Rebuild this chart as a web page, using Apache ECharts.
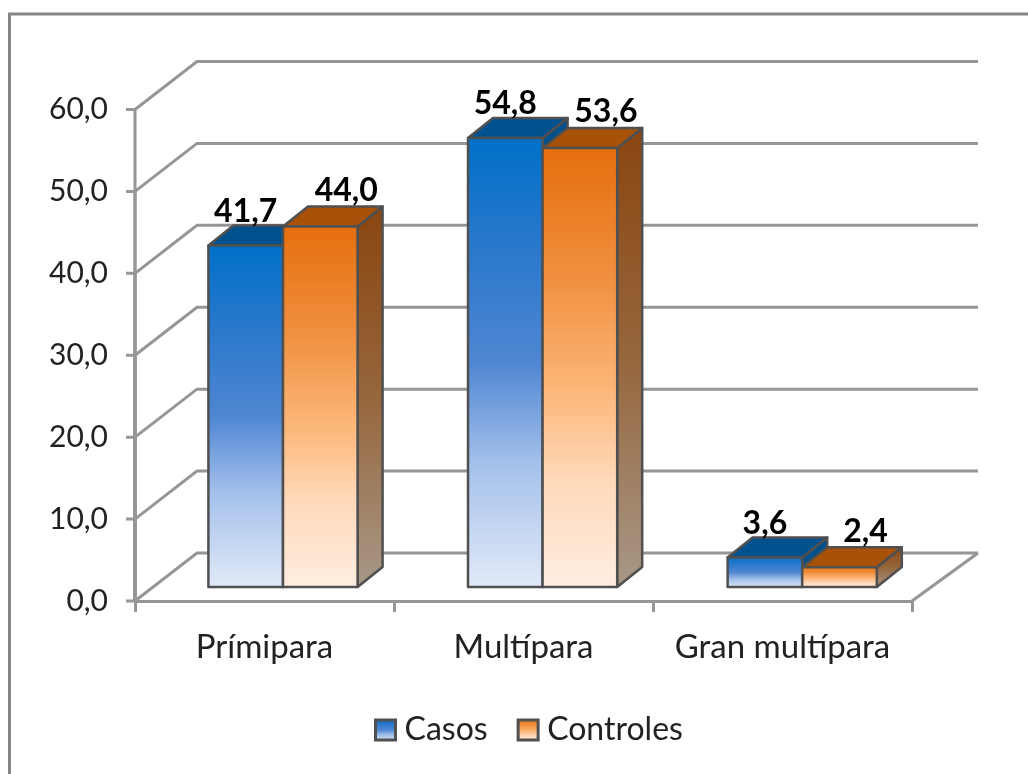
<!DOCTYPE html>
<html>
<head>
<meta charset="utf-8">
<style>
  html, body { margin: 0; background: #fff; }
  #chart { width: 1028px; height: 774px; }
</style>
<script src="https://cdn.jsdelivr.net/npm/echarts@6/dist/echarts.min.js"></script>
</head>
<body>
<div id="chart"></div>
<script>
var categories = ['Prímipara', 'Multípara', 'Gran multípara']
var casos = [41.7, 54.8, 3.6]
var controles = [44.0, 53.6, 2.4]
var yTicks = [0, 10, 20, 30, 40, 50, 60]

var gray = '#969696'
var edge = '#505050'
var font = 'Lato, "Open Sans", sans-serif'

function comma (v) {
  return v.toFixed(1).replace('.', ',')
}

function grad (stops) {
  return new echarts.graphic.LinearGradient(0, 0, 0, 1, stops.map(function (s) {
    return { offset: s[0], color: s[1] }
  }))
}

var blueFront = [[0, '#0070c8'], [0.25, '#2a78cc'], [0.5, '#4f86d2'], [0.72, '#a3c0ea'], [1, '#e2eaf8']]
var orangeFront = [[0, '#e66e0c'], [0.3, '#f09040'], [0.55, '#fcb678'], [0.75, '#fed8b8'], [1, '#ffeee2']]
var blueSide = [[0, '#00508c'], [1, '#00508c']]
var orangeSide = [[0, '#8a4510'], [0.5, '#96663c'], [1, '#a89888']]

// paredes de fondo: cada tick sube en diagonal y sigue hacia la derecha
function renderWall (params, api) {
  var p = api.coord([0, api.value(1)])
  var base = api.coord([0, 0])
  var size = api.size([1, 0])
  var x0 = p[0] - size[0] / 2
  var y0 = p[1]
  var st = { fill: 'none', stroke: gray, lineWidth: 3 }
  return {
    type: 'group',
    children: [
      {
        type: 'polyline',
        shape: { points: [[x0, y0], [x0 + 62, y0 - 48], [x0 + size[0] * 3 + 66, y0 - 48]] },
        style: st
      },
      // el eje vertical y su marca
      {
        type: 'polyline',
        shape: { points: [[x0 - 9, y0], [x0, y0], [x0, base[1]]] },
        style: st
      }
    ]
  }
}

function renderFloorEdge (params, api) {
  var p = api.coord([2, 0])
  var size = api.size([1, 0])
  var x1 = p[0] + size[0] / 2
  return {
    type: 'line',
    shape: { x1: x1, y1: p[1], x2: x1 + 66, y2: p[1] - 48 },
    style: { stroke: gray, lineWidth: 3 }
  }
}

function makeBar (slot, frontStops, sideStops, topColor, labelDx, labelDy) {
  return function (params, api) {
    var cat = api.value(0)
    var val = api.value(1)
    var top = api.coord([cat, val])
    var base = api.coord([cat, 0])
    var band = api.size([1, 0])[0]
    var w = band * 0.288
    var x = top[0] + 18.5 + cat * 0.6 + (slot - 1) * w
    var yT = top[1] - 14
    var yB = base[1] - 14
    var dx = 25
    var dy = -20
    var st = { stroke: edge, lineWidth: 2.5, lineJoin: 'round' }
    return {
      type: 'group',
      children: [
        {
          type: 'polygon',
          shape: { points: [[x + w, yB], [x + w + dx, yB + dy], [x + w + dx, yT + dy], [x + w, yT]] },
          style: Object.assign({ fill: grad(sideStops) }, st)
        },
        {
          type: 'polygon',
          shape: { points: [[x, yT], [x + dx, yT + dy], [x + w + dx, yT + dy], [x + w, yT]] },
          style: Object.assign({ fill: topColor }, st)
        },
        {
          type: 'rect',
          shape: { x: x, y: yT, width: w, height: yB - yT },
          style: Object.assign({ fill: grad(frontStops) }, st)
        },
        {
          type: 'text',
          z2: 10,
          style: {
            x: x + w / 2 + labelDx,
            y: yT + labelDy,
            text: comma(val),
            fill: '#000',
            font: 'bold 32px ' + font,
            align: 'center',
            verticalAlign: 'middle'
          }
        }
      ]
    }
  }
}

var myChart = echarts.init(document.getElementById('chart'))
myChart.setOption({
  animation: false,
  graphic: [{
    type: 'rect',
    shape: { x: 9.5, y: 14, width: 1040, height: 800 },
    style: { fill: 'none', stroke: '#868686', lineWidth: 3 }
  }],
  grid: { left: 135, top: 109.5, width: 777, height: 491.5 },
  legend: {
    left: 369,
    top: 709,
    itemWidth: 20,
    itemHeight: 20,
    itemGap: 29,
    textStyle: { fontFamily: font, fontSize: 32, color: '#222', padding: [0, 0, 0, 4] },
    data: [
      { name: 'Casos', icon: 'rect', itemStyle: { color: grad(blueFront), borderColor: edge, borderWidth: 3 } },
      { name: 'Controles', icon: 'rect', itemStyle: { color: grad(orangeFront), borderColor: edge, borderWidth: 3 } }
    ]
  },
  xAxis: {
    type: 'category',
    data: categories,
    axisLine: { show: true, lineStyle: { color: gray, width: 3 } },
    axisTick: { show: true, interval: 0, length: 11, lineStyle: { color: gray, width: 3 } },
    axisLabel: { interval: 0, fontFamily: font, fontSize: 33, color: '#222', margin: 30 }
  },
  yAxis: {
    type: 'value',
    position: 'left',
    min: 0,
    max: 60,
    interval: 10,
    axisLine: { show: false },
    axisTick: { show: false },
    splitLine: { show: false },
    axisLabel: {
      fontFamily: font,
      fontSize: 30,
      color: '#222',
      margin: 27,
      formatter: function (v) { return comma(v) }
    }
  },
  series: [
    {
      type: 'custom',
      name: 'wall',
      clip: false,
      silent: true,
      encode: { x: 0, y: 1 },
      renderItem: renderWall,
      data: yTicks.map(function (t) { return [0, t] })
    },
    {
      type: 'custom',
      name: 'floor',
      clip: false,
      silent: true,
      encode: { x: 0, y: 1 },
      renderItem: renderFloorEdge,
      data: [[2, 0]]
    },
    {
      type: 'custom',
      name: 'Casos',
      clip: false,
      encode: { x: 0, y: 1 },
      renderItem: makeBar(0, blueFront, blueSide, '#00528f', 0, -34),
      data: casos.map(function (v, i) { return [i, v] })
    },
    {
      type: 'custom',
      name: 'Controles',
      clip: false,
      encode: { x: 0, y: 1 },
      renderItem: makeBar(1, orangeFront, orangeSide, '#a85108', 26, -36),
      data: controles.map(function (v, i) { return [i, v] })
    }
  ]
})
</script>
</body>
</html>
